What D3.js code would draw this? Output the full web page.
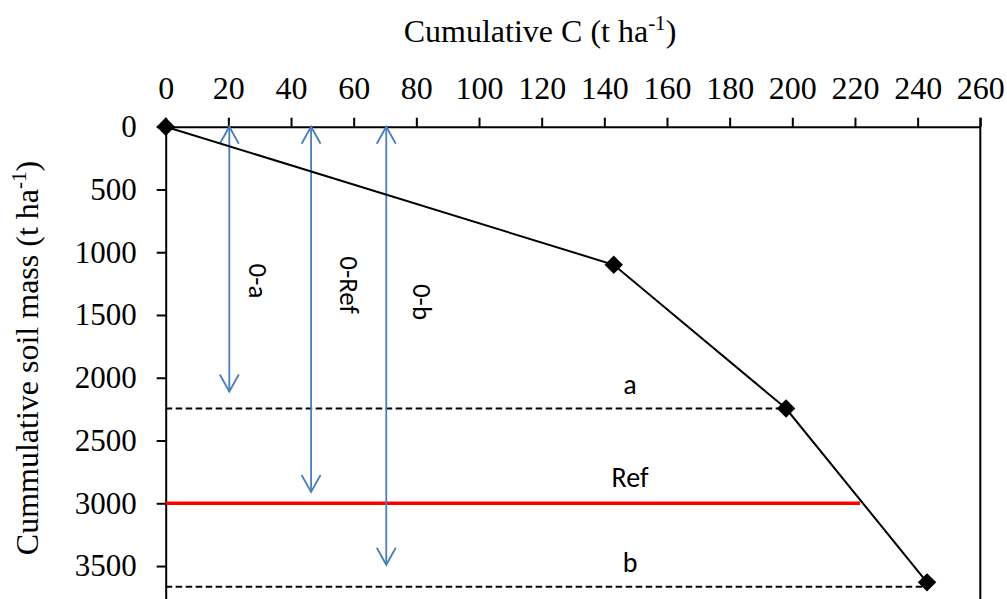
<!DOCTYPE html>
<html><head><meta charset="utf-8">
<script src="https://cdn.jsdelivr.net/npm/d3@7/dist/d3.min.js"></script>
<style>
html,body{margin:0;padding:0;background:#fff;}
svg{display:block;}
.serif{font-family:"Liberation Serif","Times New Roman",serif;}
.sans{font-family:Carlito,Calibri,Lato,sans-serif;}
</style></head>
<body>
<svg id="chart" width="1007" height="599"></svg>
<script>
// ---- data ----
const xTicks = [0,20,40,60,80,100,120,140,160,180,200,220,240,260];
const yTicks = [0,500,1000,1500,2000,2500,3000,3500];
const curveC = [0, 143, 198, 243];          // cumulative C (t/ha)
const curveMass = [0, 1100, 2245, 3630];    // cumulative soil mass (t/ha)
const levelNames = ["a", "Ref", "b"];
const levelMass = [2245, 3000, 3665];
const levelEndC = [198, 221.6, 243];
const arrowNames = ["0-a", "0-Ref", "0-b"];
const arrowC = [20.3, 46.4, 70.4];
const arrowEnd = [2110, 2910, 3490];

// ---- layout ----
const svg = d3.select("#chart");
const x = d3.scaleLinear().domain([0,260]).range([165.7, 980.3]);
const y = d3.scaleLinear().domain([0,4000]).range([126.7, 628.8]);
const blue = "#4a7ebb";

// top axis
const gx = svg.append("g").attr("transform", `translate(0,${y(0)})`)
  .call(d3.axisTop(x).tickValues(xTicks).tickSize(9).tickSizeOuter(0).tickPadding(19).tickFormat(d3.format("d")));
gx.select(".domain").attr("stroke","#000").attr("stroke-width",2);
gx.selectAll(".tick line").attr("stroke","#000").attr("stroke-width",2);
gx.selectAll(".tick text").attr("class","serif").attr("font-size",32).attr("fill","#000");

// left axis
const gy = svg.append("g").attr("transform", `translate(${x(0)},0)`)
  .call(d3.axisLeft(y).tickValues(yTicks).tickSize(9).tickSizeOuter(0).tickPadding(20).tickFormat(d3.format("d")));
gy.select(".domain").attr("stroke","#000").attr("stroke-width",2);
gy.selectAll(".tick line").attr("stroke","#000").attr("stroke-width",2);
gy.selectAll(".tick text").attr("class","serif").attr("font-size",31).attr("fill","#000");

// right border
svg.append("line").attr("x1",x(260)).attr("x2",x(260)).attr("y1",y(0)-9).attr("y2",y(4000))
  .attr("stroke","#000").attr("stroke-width",2);

// axis titles
const xt = svg.append("text").attr("class","serif").attr("font-size",32)
  .attr("x",540).attr("y",42).attr("text-anchor","middle").attr("fill","#000");
xt.append("tspan").text("Cumulative C (t ha");
xt.append("tspan").text("-1").attr("font-size",21).attr("dy",-12);
xt.append("tspan").text(")").attr("dy",12);

const yt = svg.append("text").attr("class","serif").attr("font-size",32)
  .attr("transform","translate(38,358) rotate(-90)").attr("text-anchor","middle").attr("fill","#000");
yt.append("tspan").text("Cummulative soil mass (t ha");
yt.append("tspan").text("-1").attr("font-size",21).attr("dy",-12);
yt.append("tspan").text(")").attr("dy",12);

// level lines
levelNames.forEach((n,i)=>{
  const isRef = n === "Ref";
  svg.append("line").attr("x1",x(0)).attr("x2",x(levelEndC[i]))
    .attr("y1",y(levelMass[i])).attr("y2",y(levelMass[i]))
    .attr("stroke", isRef ? "#ff0000" : "#000")
    .attr("stroke-width", isRef ? 3.5 : 2.2)
    .attr("stroke-dasharray", isRef ? null : "6.5,3.5");
  svg.append("text").attr("class","sans").attr("font-size",28).attr("fill","#000")
    .attr("x", 630).attr("y", y(levelMass[i]) - (isRef ? 16 : 15))
    .attr("text-anchor","middle").text(n);
});

// arrows
function arrowHead(g, px, py, dir){
  g.append("path").attr("d",`M${px-9.5},${py+dir*17}L${px},${py}L${px+9.5},${py+dir*17}`)
    .attr("fill","none").attr("stroke",blue).attr("stroke-width",1.8);
}
const labelDx = [29, 38, 36];
const labelCy = [281, 285, 302];
arrowNames.forEach((n,i)=>{
  const g = svg.append("g");
  const ax = x(arrowC[i]);
  g.append("line").attr("x1",ax).attr("x2",ax).attr("y1",y(0)).attr("y2",y(arrowEnd[i]))
    .attr("stroke",blue).attr("stroke-width",1.8);
  arrowHead(g, ax, y(0), 1);
  arrowHead(g, ax, y(arrowEnd[i]), -1);
  g.append("text").attr("class","sans").attr("font-size",27).attr("fill","#000")
    .attr("text-anchor","middle").attr("dominant-baseline","central")
    .attr("transform",`translate(${ax+labelDx[i]},${labelCy[i]}) rotate(90)`).text(n);
});

// curve
const pts = curveC.map((c,i)=>[c, curveMass[i]]);
svg.append("path").datum(pts)
  .attr("d", d3.line().x(d=>x(d[0])).y(d=>y(d[1])))
  .attr("fill","none").attr("stroke","#000").attr("stroke-width",2);
svg.selectAll(".mk").data(pts).enter().append("path")
  .attr("d", d3.symbol().type(d3.symbolSquare).size(170))
  .attr("transform", d=>`translate(${x(d[0])},${y(d[1])}) rotate(45)`)
  .attr("fill","#000");
</script>
</body></html>
